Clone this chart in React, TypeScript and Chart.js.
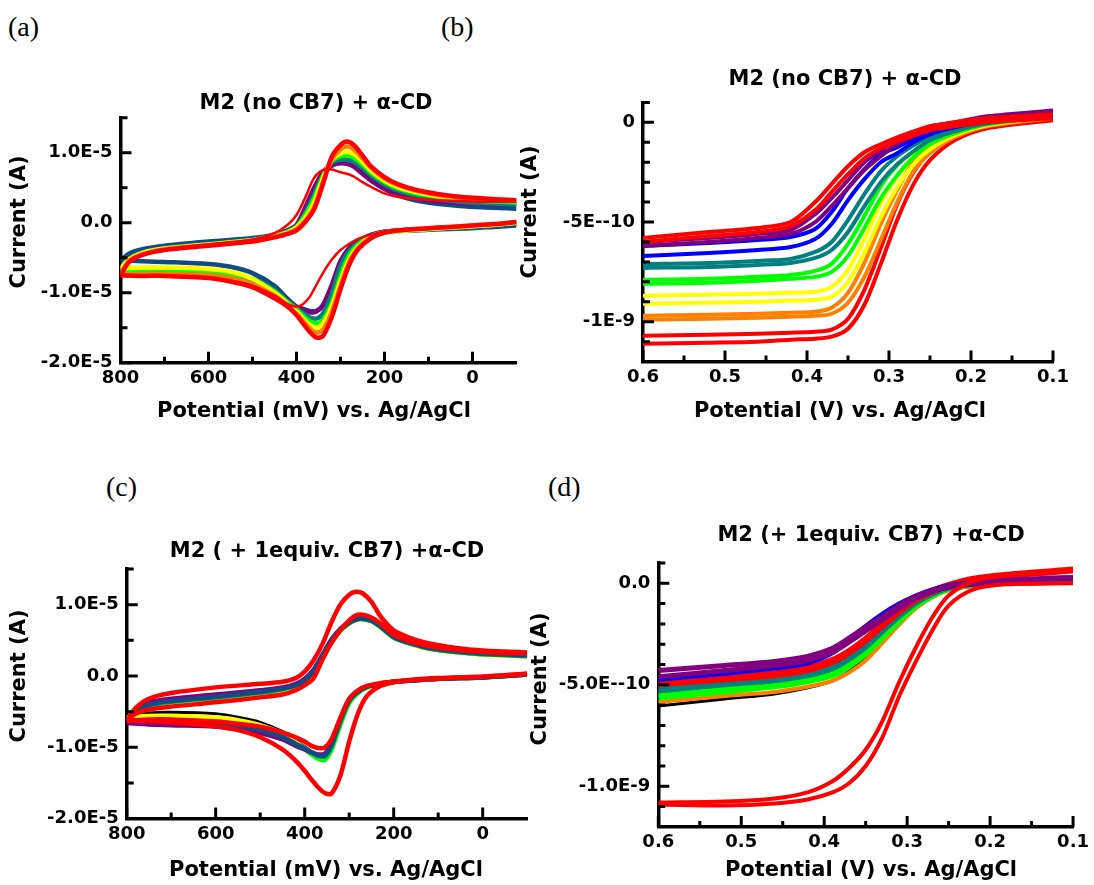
import React, { useEffect, useRef } from 'react';
import { Chart, registerables } from 'chart.js';
Chart.register(...registerables);

// ---------------- shared grids ----------------
// CV potentials (mV): upper branch scanned 800 -> -100, lower branch -100 -> 800
const CV_UP_MV = [800, 780, 750, 700, 600, 500, 450, 420, 400, 380, 360, 340, 320, 300, 285, 270, 250, 230, 200, 170, 130, 80, 30, -20, -60, -100];
const CV_DN_MV = [-100, -50, 0, 50, 100, 150, 200, 230, 260, 280, 300, 320, 340, 355, 370, 385, 400, 420, 450, 500, 550, 600, 700, 750, 800];
// LSV potentials (V)
const LSV_V = [0.6, 0.52, 0.46, 0.42, 0.39, 0.37, 0.35, 0.33, 0.31, 0.29, 0.27, 0.25, 0.22, 0.18, 0.1];

// ---------------- panel (a): current in µA ----------------
const A_RED1_UP = [-7.5, -5.6, -4.6, -3.9, -3.3, -2.7, -2.1, -1.6, -1.1, 0.1, 1.9, 5.5, 9.4, 11.1, 11.6, 11.1, 9.6, 8.0, 6.5, 5.5, 4.7, 4.1, 3.7, 3.5, 3.3, 3.2];
const A_RED1_DN = [0.1, -0.2, -0.4, -0.6, -0.8, -1.0, -1.4, -2.2, -3.8, -6.0, -9.5, -13.5, -16.2, -16.4, -15.6, -14.4, -13.2, -12.0, -10.8, -9.2, -8.4, -7.9, -7.6, -7.6, -7.5];
const A_ORANGE_UP = [-7.4, -5.4, -4.5, -3.8, -3.2, -2.6, -2.0, -1.5, -0.9, 0.3, 2.2, 5.8, 9.0, 10.5, 10.9, 10.5, 9.2, 7.8, 6.3, 5.4, 4.6, 4.0, 3.6, 3.4, 3.3, 3.2];
const A_ORANGE_DN = [0.1, -0.2, -0.4, -0.6, -0.8, -1.0, -1.4, -2.1, -3.6, -5.6, -9.0, -12.8, -15.3, -15.7, -15.1, -14.0, -13.0, -11.9, -10.4, -8.8, -7.9, -7.5, -7.3, -7.3, -7.4];
const A_YELLOW_UP = [-6.5, -5.2, -4.3, -3.7, -3.1, -2.5, -1.9, -1.4, -0.7, 0.7, 2.9, 6.3, 9.0, 9.9, 10.1, 9.8, 8.7, 7.4, 6.0, 5.1, 4.4, 3.8, 3.5, 3.3, 3.2, 3.1];
const A_YELLOW_DN = [0.0, -0.3, -0.5, -0.7, -0.9, -1.1, -1.4, -2.0, -3.4, -5.2, -8.3, -12.0, -14.4, -15.0, -14.6, -13.7, -12.7, -11.6, -10.0, -8.0, -7.0, -6.6, -6.4, -6.4, -6.5];
const A_GREEN_UP = [-6.8, -5.3, -4.4, -3.7, -3.1, -2.5, -1.9, -1.3, -0.6, 1.1, 3.5, 6.6, 8.8, 9.5, 9.6, 9.3, 8.3, 7.1, 5.8, 4.9, 4.2, 3.7, 3.3, 3.1, 3.0, 2.9];
const A_GREEN_DN = [0.0, -0.3, -0.5, -0.7, -0.9, -1.1, -1.4, -1.9, -3.1, -4.6, -7.6, -11.5, -13.9, -14.4, -14.1, -13.3, -12.4, -11.4, -9.8, -8.1, -7.3, -6.9, -6.7, -6.7, -6.8];
const A_TEAL_UP = [-7.0, -5.1, -4.2, -3.6, -3.0, -2.4, -1.8, -1.2, -0.5, 1.4, 4.0, 6.8, 8.6, 9.0, 9.0, 8.7, 7.8, 6.7, 5.5, 4.6, 3.9, 3.4, 3.0, 2.8, 2.7, 2.6];
const A_TEAL_DN = [-0.1, -0.4, -0.6, -0.8, -1.0, -1.1, -1.4, -1.9, -2.9, -4.0, -6.2, -10.2, -13.0, -13.7, -13.5, -12.9, -12.2, -11.2, -9.6, -8.0, -7.4, -7.1, -6.9, -6.9, -7.0];
const A_NAVY_UP = [-5.4, -4.4, -3.8, -3.3, -2.7, -2.2, -1.7, -1.1, -0.4, 1.9, 4.6, 6.9, 8.1, 8.6, 8.6, 8.2, 7.2, 6.0, 4.8, 3.9, 3.2, 2.7, 2.4, 2.2, 2.1, 2.0];
const A_NAVY_DN = [-0.4, -0.6, -0.8, -0.9, -1.0, -1.1, -1.3, -1.7, -2.6, -3.6, -5.6, -9.2, -11.8, -12.6, -12.6, -12.3, -12.0, -10.9, -9.0, -7.2, -6.3, -5.9, -5.6, -5.5, -5.4];
const A_PURPLE_UP = [-7.2, -5.3, -4.4, -3.7, -3.1, -2.5, -1.8, -1.1, -0.3, 2.2, 5.0, 7.2, 8.3, 8.5, 8.4, 8.0, 7.0, 6.0, 4.9, 4.1, 3.5, 3.1, 2.8, 2.7, 2.6, 2.6];
const A_PURPLE_DN = [-0.1, -0.4, -0.6, -0.8, -0.9, -1.0, -1.3, -1.8, -2.6, -3.6, -5.5, -8.9, -11.8, -12.7, -12.8, -12.4, -12.0, -11.1, -9.6, -8.3, -7.7, -7.5, -7.3, -7.3, -7.2];
const A_RED2_UP = [-7.6, -5.5, -4.5, -3.8, -3.1, -2.4, -1.5, -0.3, 1.1, 3.6, 6.4, 7.5, 7.6, 7.2, 7.0, 6.6, 5.8, 5.1, 4.2, 3.7, 3.4, 3.2, 3.1, 3.0, 3.0, 3.0];
const A_RED2_DN = [0.1, -0.2, -0.4, -0.6, -0.8, -1.0, -1.3, -1.7, -2.3, -3.0, -3.9, -5.3, -7.2, -8.9, -10.6, -11.6, -12.0, -11.6, -10.4, -9.0, -8.3, -7.9, -7.7, -7.7, -7.6];

// ---------------- panel (c): current in µA ----------------
const C_RED1_UP = [-6.4, -4.5, -3.2, -2.4, -1.6, -1.1, -0.8, -0.3, 0.6, 2.2, 4.5, 7.5, 10.0, 11.4, 11.8, 11.6, 10.4, 8.4, 6.4, 5.5, 4.7, 4.1, 3.7, 3.5, 3.4, 3.3];
const C_RED1_DN = [0.3, 0.1, -0.1, -0.2, -0.3, -0.5, -0.9, -1.4, -2.8, -5.2, -9.2, -14.0, -16.5, -16.4, -15.6, -14.5, -13.3, -11.9, -10.3, -8.6, -7.6, -7.1, -6.5, -6.3, -6.3];
const C_RED2_UP = [-6.3, -5.3, -4.7, -4.3, -3.7, -3.0, -2.6, -2.0, -1.3, -0.3, 2.3, 4.6, 6.4, 7.8, 8.5, 8.6, 8.2, 7.4, 5.8, 5.0, 4.3, 3.8, 3.5, 3.3, 3.2, 3.2];
const C_RED2_DN = [0.3, 0.1, -0.1, -0.2, -0.4, -0.5, -0.8, -1.0, -1.4, -2.0, -3.2, -5.9, -8.9, -10.0, -10.1, -9.8, -9.2, -8.6, -7.9, -7.1, -6.7, -6.4, -6.1, -6.1, -6.3];
const C_NAVY_UP = [-6.2, -4.9, -4.0, -3.5, -2.9, -2.2, -1.8, -1.3, -0.6, 0.7, 2.9, 5.0, 6.5, 7.5, 7.9, 8.1, 7.8, 7.0, 5.5, 4.8, 4.1, 3.6, 3.3, 3.1, 3.0, 2.9];
const C_NAVY_DN = [0.2, 0.0, -0.2, -0.3, -0.4, -0.6, -0.8, -1.1, -1.5, -2.2, -3.4, -6.2, -9.6, -11.1, -11.1, -10.7, -10.2, -9.6, -8.6, -7.6, -7.0, -6.6, -6.3, -6.2, -6.2];
const C_PURPLE_UP = [-6.6, -4.6, -3.7, -3.2, -2.6, -2.0, -1.6, -1.1, -0.4, 0.9, 3.0, 5.1, 6.6, 7.6, 8.0, 8.2, 7.9, 7.1, 5.6, 4.9, 4.2, 3.7, 3.4, 3.2, 3.1, 3.0];
const C_PURPLE_DN = [0.2, 0.0, -0.2, -0.3, -0.4, -0.6, -0.8, -1.1, -1.5, -2.1, -3.3, -6.0, -9.4, -10.9, -11.0, -10.7, -10.3, -9.8, -8.9, -8.0, -7.5, -7.1, -6.9, -6.8, -6.6];
const C_TEAL_UP = [-6.2, -5.0, -4.1, -3.6, -3.0, -2.3, -1.8, -1.3, -0.6, 0.7, 2.8, 4.9, 6.4, 7.4, 7.9, 8.0, 7.7, 6.9, 5.4, 4.7, 4.0, 3.5, 3.2, 3.0, 2.9, 2.8];
const C_TEAL_DN = [0.2, 0.0, -0.2, -0.3, -0.4, -0.6, -0.8, -1.1, -1.5, -2.2, -3.5, -6.4, -9.9, -11.3, -11.2, -10.7, -10.1, -9.5, -8.5, -7.5, -6.9, -6.5, -6.2, -6.2, -6.2];
const C_GREEN_UP = [-6.3, -5.1, -4.2, -3.7, -3.1, -2.4, -1.9, -1.4, -0.7, 0.6, 2.7, 4.8, 6.4, 7.4, 7.9, 8.0, 7.7, 6.9, 5.4, 4.7, 4.0, 3.5, 3.2, 3.0, 2.9, 2.8];
const C_GREEN_DN = [0.2, 0.0, -0.2, -0.3, -0.4, -0.6, -0.8, -1.1, -1.6, -2.4, -3.8, -6.9, -10.4, -11.8, -11.6, -11.0, -10.3, -9.6, -8.5, -7.4, -6.8, -6.4, -6.2, -6.2, -6.2];
const C_YELLOW_UP = [-6.0, -5.2, -4.3, -3.8, -3.2, -2.5, -2.0, -1.5, -0.8, 0.5, 2.6, 4.7, 6.3, 7.3, 7.8, 7.9, 7.6, 6.8, 5.3, 4.6, 3.9, 3.4, 3.1, 2.9, 2.8, 2.7];
const C_YELLOW_DN = [0.2, 0.0, -0.2, -0.3, -0.4, -0.6, -0.8, -1.1, -1.6, -2.3, -3.7, -6.7, -10.2, -11.6, -11.4, -10.8, -10.1, -9.3, -8.1, -6.9, -6.2, -5.8, -5.6, -5.6, -5.8];
const C_BLACK_UP = [-5.8, -5.3, -4.4, -3.9, -3.2, -2.5, -2.0, -1.5, -0.8, 0.5, 2.6, 4.7, 6.3, 7.3, 7.8, 7.9, 7.6, 6.8, 5.3, 4.6, 3.9, 3.4, 3.1, 2.9, 2.8, 2.7];
const C_BLACK_DN = [0.2, 0.0, -0.2, -0.3, -0.4, -0.6, -0.8, -1.1, -1.5, -2.2, -3.5, -6.5, -10.0, -11.4, -11.2, -10.6, -9.9, -9.1, -7.8, -6.5, -5.8, -5.3, -5.1, -5.2, -5.6];

// ---------------- panel (b): current in nA (forward / reverse scans) ----------------
const B_REDTOP_F = [-0.6, -0.57, -0.55, -0.52, -0.44, -0.35, -0.26, -0.18, -0.13, -0.095, -0.065, -0.04, -0.02, 0.0, 0.02];
const B_REDTOP_R = [-0.58, -0.55, -0.53, -0.5, -0.4, -0.31, -0.22, -0.15, -0.11, -0.075, -0.045, -0.02, 0.0, 0.02, 0.04];
const B_PURPLE_F = [-0.62, -0.6, -0.58, -0.56, -0.5, -0.42, -0.33, -0.24, -0.17, -0.11, -0.07, -0.04, -0.01, 0.02, 0.04];
const B_PURPLE_R = [-0.6, -0.58, -0.56, -0.54, -0.46, -0.38, -0.29, -0.2, -0.14, -0.09, -0.05, -0.02, 0.0, 0.03, 0.06];
const B_BLUE_F = [-0.67, -0.655, -0.64, -0.625, -0.585, -0.51, -0.39, -0.285, -0.2, -0.155, -0.1, -0.06, -0.025, 0.005, 0.03];
const B_BLUE_R = [-0.62, -0.605, -0.59, -0.575, -0.535, -0.45, -0.33, -0.235, -0.16, -0.125, -0.08, -0.04, -0.015, 0.015, 0.05];
const B_TEAL_F = [-0.73, -0.725, -0.715, -0.705, -0.68, -0.64, -0.55, -0.42, -0.3, -0.21, -0.145, -0.09, -0.045, -0.005, 0.03];
const B_TEAL_R = [-0.71, -0.705, -0.695, -0.685, -0.65, -0.6, -0.49, -0.36, -0.245, -0.17, -0.115, -0.07, -0.025, 0.005, 0.05];
const B_GREEN_F = [-0.81, -0.805, -0.795, -0.785, -0.775, -0.75, -0.67, -0.53, -0.38, -0.265, -0.175, -0.11, -0.055, -0.01, 0.03];
const B_GREEN_R = [-0.79, -0.785, -0.775, -0.765, -0.745, -0.71, -0.61, -0.47, -0.32, -0.215, -0.145, -0.09, -0.035, 0.0, 0.04];
const B_YELLOW_F = [-0.91, -0.905, -0.9, -0.895, -0.89, -0.875, -0.8, -0.655, -0.475, -0.325, -0.21, -0.135, -0.065, -0.015, 0.025];
const B_YELLOW_R = [-0.87, -0.865, -0.86, -0.855, -0.85, -0.825, -0.74, -0.585, -0.405, -0.275, -0.17, -0.105, -0.045, -0.005, 0.035];
const B_ORANGE_F = [-0.99, -0.985, -0.98, -0.975, -0.97, -0.96, -0.905, -0.775, -0.59, -0.4, -0.245, -0.155, -0.075, -0.02, 0.02];
const B_ORANGE_R = [-0.97, -0.965, -0.96, -0.955, -0.95, -0.93, -0.855, -0.705, -0.51, -0.34, -0.195, -0.125, -0.055, -0.01, 0.04];
const B_REDBOT_F = [-1.11, -1.105, -1.1, -1.09, -1.085, -1.075, -1.035, -0.915, -0.71, -0.49, -0.31, -0.19, -0.09, -0.03, 0.01];
const B_REDBOT_R = [-1.07, -1.065, -1.06, -1.055, -1.05, -1.04, -0.985, -0.84, -0.63, -0.41, -0.25, -0.15, -0.07, -0.01, 0.03];

// ---------------- panel (d): current in nA ----------------
const D_REDBIG_F = [-1.09, -1.095, -1.085, -1.065, -1.03, -0.985, -0.9, -0.76, -0.56, -0.39, -0.235, -0.11, -0.03, -0.005, 0.0];
const D_REDBIG_R = [-1.08, -1.075, -1.06, -1.03, -0.975, -0.91, -0.82, -0.68, -0.49, -0.32, -0.17, -0.06, 0.01, 0.04, 0.07];
const D_PURPLE_F = [-0.43, -0.405, -0.385, -0.36, -0.32, -0.27, -0.215, -0.165, -0.11, -0.065, -0.035, -0.015, 0.0, 0.015, 0.03];
const D_PURPLE_R = [-0.46, -0.43, -0.405, -0.38, -0.34, -0.29, -0.235, -0.18, -0.125, -0.075, -0.04, -0.02, -0.005, 0.01, 0.025];
const D_BLUE = [-0.475, -0.445, -0.42, -0.395, -0.345, -0.28, -0.21, -0.15, -0.1, -0.06, -0.03, -0.01, 0.005, 0.015, 0.025];
const D_RED_F = [-0.5, -0.475, -0.455, -0.43, -0.39, -0.345, -0.285, -0.215, -0.145, -0.085, -0.045, -0.015, 0.015, 0.035, 0.06];
const D_RED_R = [-0.48, -0.46, -0.44, -0.415, -0.375, -0.33, -0.27, -0.2, -0.13, -0.075, -0.035, -0.005, 0.025, 0.045, 0.07];
const D_TEAL_F = [-0.53, -0.5, -0.48, -0.455, -0.42, -0.375, -0.315, -0.24, -0.165, -0.1, -0.055, -0.025, -0.005, 0.005, 0.015];
const D_TEAL_R = [-0.51, -0.485, -0.465, -0.44, -0.405, -0.36, -0.3, -0.225, -0.155, -0.09, -0.05, -0.02, 0.0, 0.01, 0.02];
const D_GREEN_F = [-0.565, -0.535, -0.51, -0.485, -0.455, -0.41, -0.35, -0.27, -0.19, -0.115, -0.065, -0.03, -0.01, 0.0, 0.01];
const D_GREEN_R = [-0.545, -0.52, -0.495, -0.47, -0.44, -0.395, -0.335, -0.255, -0.175, -0.105, -0.06, -0.028, -0.008, 0.002, 0.012];
const D_ORANGE = [-0.585, -0.555, -0.535, -0.51, -0.48, -0.44, -0.38, -0.295, -0.205, -0.125, -0.07, -0.035, -0.012, -0.002, 0.005];
const D_BLACK = [-0.605, -0.57, -0.545, -0.515, -0.48, -0.435, -0.37, -0.285, -0.195, -0.12, -0.07, -0.035, -0.015, -0.005, 0.0];

// ---------------- ticks & labels ----------------
const CV_X_MAJOR = [800, 600, 400, 200, 0];
const CV_X_LABELS = ['800', '600', '400', '200', '0'];
const CV_X_MINOR = [700, 500, 300, 100];
const CV_Y_MAJOR = [10, 0, -10, -20];
const CV_Y_LABELS = ['1.0E-5', '0.0', '-1.0E-5', '-2.0E-5'];
const CV_Y_MINOR = [15, 5, -5, -15];

const LSV_X_MAJOR = [0.6, 0.5, 0.4, 0.3, 0.2, 0.1];
const LSV_X_LABELS = ['0.6', '0.5', '0.4', '0.3', '0.2', '0.1'];
const LSV_X_MINOR = [0.55, 0.45, 0.35, 0.25, 0.15];
const LSV_Y_MAJOR = [0, -0.5, -1.0];
const B_Y_LABELS = ['0', '-5E--10', '-1E-9'];
const D_Y_LABELS = ['0.0', '-5.0E--10', '-1.0E-9'];
const LSV_Y_MINOR = [0.1, -0.1, -0.2, -0.3, -0.4, -0.6, -0.7, -0.8, -0.9, -1.1];

const RED = '#ff0000', ORANGE = '#ff8000', YELLOW = '#ffff00', GREEN = '#00ff00', TEAL = '#008080',
  NAVY = '#124b84', PURPLE = '#800080', BLUE = '#0000ff', BLACK = '#000000';

const FONT = '"DejaVu Sans", "Liberation Sans", sans-serif';
const Y_BOX = 112; // width reserved for y tick labels
const X_BOX = 34;  // height reserved for x tick labels

function cvPoints(up: number[], dn: number[]) {
  return [
    ...CV_UP_MV.map((x, i) => ({ x, y: up[i] })),
    { x: -100, y: null },
    ...CV_DN_MV.map((x, i) => ({ x, y: dn[i] })),
  ];
}
function lsvPoints(vals: number[]) {
  return LSV_V.map((x, i) => ({ x, y: vals[i] }));
}
function ds(data: any[], color: string, width: number) {
  return { data, borderColor: color, backgroundColor: color, borderWidth: width, pointRadius: 0, showLine: true, tension: 0.3, fill: false, spanGaps: false };
}

function makeDecor(spec: any) {
  return {
    id: 'decor_' + spec.key,
    afterDraw(chart: any) {
      const { ctx, chartArea } = chart;
      const xs = chart.scales.x, ys = chart.scales.y;
      ctx.save();
      ctx.strokeStyle = '#000';
      ctx.lineWidth = 3;
      ctx.beginPath();
      spec.xMajor.forEach((v: number) => { const p = xs.getPixelForValue(v); ctx.moveTo(p, chartArea.bottom); ctx.lineTo(p, chartArea.bottom - 11); });
      spec.xMinor.forEach((v: number) => { const p = xs.getPixelForValue(v); ctx.moveTo(p, chartArea.bottom); ctx.lineTo(p, chartArea.bottom - 6); });
      spec.yMajor.forEach((v: number) => { const p = ys.getPixelForValue(v); ctx.moveTo(chartArea.left, p); ctx.lineTo(chartArea.left + 11, p); });
      spec.yMinor.forEach((v: number) => { const p = ys.getPixelForValue(v); ctx.moveTo(chartArea.left, p); ctx.lineTo(chartArea.left + 7, p); });
      ctx.stroke();
      ctx.fillStyle = '#000';
      ctx.textAlign = 'center';
      ctx.textBaseline = 'middle';
      ctx.font = 'bold 21px ' + FONT;
      spec.texts.forEach((t: any) => {
        ctx.save();
        ctx.translate(t.x, t.y);
        if (t.rot) ctx.rotate(-Math.PI / 2);
        ctx.fillText(t.text, 0, 0);
        ctx.restore();
      });
      ctx.restore();
    },
  };
}

function buildConfig(spec: any) {
  const tickFont = { family: FONT, size: 18, weight: 'bold' as const };
  return {
    type: 'scatter',
    data: { datasets: spec.datasets },
    options: {
      animation: false,
      responsive: false,
      devicePixelRatio: 1,
      events: [],
      layout: {
        padding: {
          left: spec.area.left - Y_BOX,
          top: spec.area.top,
          right: 1094 - spec.area.right,
          bottom: 885 - spec.area.bottom - X_BOX,
        },
      },
      plugins: { legend: { display: false }, tooltip: { enabled: false }, title: { display: false } },
      scales: {
        x: {
          type: 'linear', position: 'bottom', reverse: true, min: spec.xMin, max: spec.xMax, bounds: 'data',
          grid: { display: false, drawTicks: false },
          border: { display: true, color: '#000', width: 3.5 },
          ticks: { autoSkip: false, maxRotation: 0, minRotation: 0, padding: 5, color: '#000', font: tickFont,
            callback: (_v: any, i: number) => spec.xLabels[i] },
          afterBuildTicks: (s: any) => { s.ticks = spec.xMajor.map((value: number) => ({ value })); },
          afterFit: (s: any) => { s.height = X_BOX; },
        },
        y: {
          type: 'linear', position: 'left', min: spec.yMin, max: spec.yMax, bounds: 'data',
          grid: { display: false, drawTicks: false },
          border: { display: true, color: '#000', width: 3.5 },
          ticks: { autoSkip: false, padding: 8, color: '#000', font: tickFont,
            callback: (_v: any, i: number) => spec.yLabels[i] },
          afterBuildTicks: (s: any) => { s.ticks = spec.yMajor.map((value: number) => ({ value })); },
          afterFit: (s: any) => { s.width = Y_BOX; },
        },
      },
    },
    plugins: [makeDecor(spec)],
  };
}

const PANEL_A = {
  key: 'a',
  area: { left: 120.5, right: 516.5, top: 117.7, bottom: 362.7 },
  xMin: -100, xMax: 800, yMin: -20, yMax: 15,
  xMajor: CV_X_MAJOR, xLabels: CV_X_LABELS, xMinor: CV_X_MINOR,
  yMajor: CV_Y_MAJOR, yLabels: CV_Y_LABELS, yMinor: CV_Y_MINOR,
  texts: [
    { text: 'M2 (no CB7) + α-CD', x: 316, y: 104 },
    { text: 'Potential (mV) vs. Ag/AgCl', x: 314, y: 412 },
    { text: 'Current (A)', x: 20, y: 222, rot: true },
  ],
  datasets: [
    ds(cvPoints(A_RED2_UP, A_RED2_DN), RED, 2.5),
    ds(cvPoints(A_RED1_UP, A_RED1_DN), RED, 4.5),
    ds(cvPoints(A_ORANGE_UP, A_ORANGE_DN), ORANGE, 4.5),
    ds(cvPoints(A_YELLOW_UP, A_YELLOW_DN), YELLOW, 4.5),
    ds(cvPoints(A_GREEN_UP, A_GREEN_DN), GREEN, 4.5),
    ds(cvPoints(A_TEAL_UP, A_TEAL_DN), TEAL, 4.5),
    ds(cvPoints(A_PURPLE_UP, A_PURPLE_DN), PURPLE, 4.5),
    ds(cvPoints(A_NAVY_UP, A_NAVY_DN), NAVY, 4.5),
  ],
};

const PANEL_B = {
  key: 'b',
  area: { left: 643, right: 1053, top: 102.4, bottom: 361.6 },
  xMin: 0.1, xMax: 0.6, yMin: -1.2, yMax: 0.1,
  xMajor: LSV_X_MAJOR, xLabels: LSV_X_LABELS, xMinor: LSV_X_MINOR,
  yMajor: LSV_Y_MAJOR, yLabels: B_Y_LABELS, yMinor: LSV_Y_MINOR,
  texts: [
    { text: 'M2 (no CB7) + α-CD', x: 845, y: 80 },
    { text: 'Potential (V) vs. Ag/AgCl', x: 840, y: 412 },
    { text: 'Current (A)', x: 531, y: 212, rot: true },
  ],
  datasets: [
    ds(lsvPoints(B_REDTOP_R), RED, 4),
    ds(lsvPoints(B_REDTOP_F), RED, 4),
    ds(lsvPoints(B_PURPLE_R), PURPLE, 4),
    ds(lsvPoints(B_PURPLE_F), PURPLE, 4),
    ds(lsvPoints(B_BLUE_R), BLUE, 4),
    ds(lsvPoints(B_BLUE_F), BLUE, 4),
    ds(lsvPoints(B_TEAL_R), TEAL, 4),
    ds(lsvPoints(B_TEAL_F), TEAL, 4),
    ds(lsvPoints(B_GREEN_R), GREEN, 4),
    ds(lsvPoints(B_GREEN_F), GREEN, 4),
    ds(lsvPoints(B_YELLOW_R), YELLOW, 4),
    ds(lsvPoints(B_YELLOW_F), YELLOW, 4),
    ds(lsvPoints(B_ORANGE_R), ORANGE, 4),
    ds(lsvPoints(B_ORANGE_F), ORANGE, 4),
    ds(lsvPoints(B_REDBOT_R), RED, 4),
    ds(lsvPoints(B_REDBOT_F), RED, 4),
  ],
};

const PANEL_C = {
  key: 'c',
  area: { left: 126.7, right: 527.2, top: 569, bottom: 818.6 },
  xMin: -100, xMax: 800, yMin: -20, yMax: 15,
  xMajor: CV_X_MAJOR, xLabels: CV_X_LABELS, xMinor: CV_X_MINOR,
  yMajor: CV_Y_MAJOR, yLabels: CV_Y_LABELS, yMinor: CV_Y_MINOR,
  texts: [
    { text: 'M2 ( + 1equiv. CB7) +α-CD', x: 327, y: 552 },
    { text: 'Potential (mV) vs. Ag/AgCl', x: 326, y: 871 },
    { text: 'Current (A)', x: 20, y: 676, rot: true },
  ],
  datasets: [
    ds(cvPoints(C_RED1_UP, C_RED1_DN), RED, 4.5),
    ds(cvPoints(C_RED2_UP, C_RED2_DN), RED, 4.5),
    ds(cvPoints(C_NAVY_UP, C_NAVY_DN), NAVY, 4.5),
    ds(cvPoints(C_PURPLE_UP, C_PURPLE_DN), PURPLE, 4.5),
    ds(cvPoints(C_TEAL_UP, C_TEAL_DN), TEAL, 4.5),
    ds(cvPoints(C_GREEN_UP, C_GREEN_DN), GREEN, 4.5),
    ds(cvPoints(C_YELLOW_UP, C_YELLOW_DN), YELLOW, 4.5),
    ds(cvPoints(C_BLACK_UP, C_BLACK_DN), BLACK, 3),
  ],
};

const PANEL_D = {
  key: 'd',
  area: { left: 658.3, right: 1079.5, top: 563, bottom: 826.9 },
  xMin: 0.1, xMax: 0.6, yMin: -1.2, yMax: 0.1,
  xMajor: LSV_X_MAJOR, xLabels: LSV_X_LABELS, xMinor: LSV_X_MINOR,
  yMajor: LSV_Y_MAJOR, yLabels: D_Y_LABELS, yMinor: LSV_Y_MINOR,
  texts: [
    { text: 'M2 (+ 1equiv. CB7) +α-CD', x: 871, y: 536 },
    { text: 'Potential (V) vs. Ag/AgCl', x: 871, y: 871 },
    { text: 'Current (A)', x: 541, y: 679, rot: true },
  ],
  datasets: [
    ds(lsvPoints(D_REDBIG_R), RED, 4),
    ds(lsvPoints(D_REDBIG_F), RED, 4),
    ds(lsvPoints(D_PURPLE_F), PURPLE, 5),
    ds(lsvPoints(D_PURPLE_R), PURPLE, 5),
    ds(lsvPoints(D_BLUE), BLUE, 4),
    ds(lsvPoints(D_RED_R), RED, 5),
    ds(lsvPoints(D_RED_F), RED, 5),
    ds(lsvPoints(D_TEAL_R), TEAL, 5),
    ds(lsvPoints(D_TEAL_F), TEAL, 5),
    ds(lsvPoints(D_GREEN_R), GREEN, 5),
    ds(lsvPoints(D_GREEN_F), GREEN, 5),
    ds(lsvPoints(D_ORANGE), ORANGE, 4),
    ds(lsvPoints(D_BLACK), BLACK, 3),
  ],
};

function Panel({ spec }: { spec: any }) {
  const ref = useRef<HTMLCanvasElement>(null);
  useEffect(() => {
    const chart = new Chart(ref.current as HTMLCanvasElement, buildConfig(spec) as any);
    return () => chart.destroy();
  }, [spec]);
  return (
    <canvas
      ref={ref}
      width={1094}
      height={885}
      style={{ position: 'absolute', left: 0, top: 0, width: 1094, height: 885 }}
    />
  );
}

const LETTERS = [
  { t: '(a)', x: 8, y: 13 },
  { t: '(b)', x: 441, y: 13 },
  { t: '(c)', x: 106, y: 473 },
  { t: '(d)', x: 548, y: 473 },
];

export default function App() {
  return (
    <div style={{ position: 'absolute', left: 0, top: 0, width: 1094, height: 885, background: '#fff', overflow: 'hidden' }}>
      {LETTERS.map((l) => (
        <div key={l.t} style={{ position: 'absolute', left: l.x, top: l.y, fontFamily: '"Liberation Serif", "Times New Roman", serif', fontSize: 28, lineHeight: '28px', color: '#000' }}>
          {l.t}
        </div>
      ))}
      <Panel spec={PANEL_A} />
      <Panel spec={PANEL_B} />
      <Panel spec={PANEL_C} />
      <Panel spec={PANEL_D} />
    </div>
  );
}
